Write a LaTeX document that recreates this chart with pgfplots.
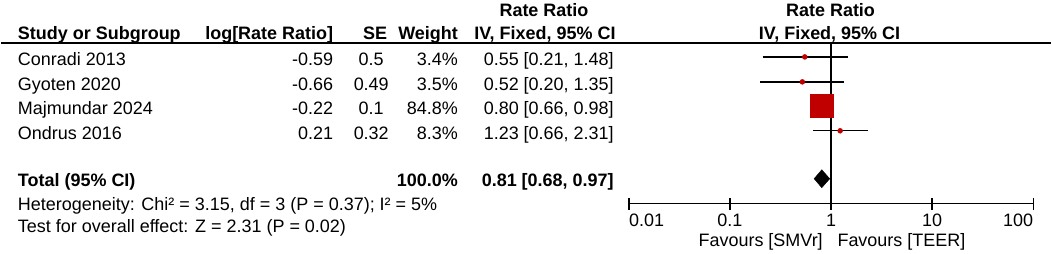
\documentclass[border=0pt]{standalone}
\usepackage{pgfplots}
\pgfplotsset{compat=1.18}
\usepackage{fontspec}
\setmainfont{Liberation Sans}
\definecolor{rmred}{RGB}{192,0,0}
\begin{document}
\begin{tikzpicture}[x=1pt,y=1pt]
\path (0,0) rectangle (1052,254);
% header line
\draw[line width=1.6pt] (0,254-43) -- (1052,254-43);
\begin{scope}[y=-1pt,yshift=254pt]
\tikzset{t/.style={inner sep=0pt,anchor=base,font=\fontsize{18}{20}\selectfont},
  b/.style={inner sep=0pt,anchor=base,font=\fontsize{18}{20}\selectfont\bfseries}}
% headers
\node[b,anchor=base west] at (17,39.5) {Study or Subgroup};
\node[b,anchor=base east] at (333,39.5) {log[Rate Ratio]};
\node[b,anchor=base east] at (387,39.5) {SE};
\node[b,anchor=base east] at (458,39.5) {Weight};
\node[b] at (544,16.5) {Rate Ratio};
\node[b] at (545,39.5) {IV, Fixed, 95\% CI};
\node[b] at (831,16.5) {Rate Ratio};
\node[b] at (830,39.5) {IV, Fixed, 95\% CI};
% rows
\foreach \y/\n/\l/\s/\w/\c in {66/Conradi 2013/-0.59/0.5/3.4/0.55 [0.21{,} 1.48],
  90.5/Gyoten 2020/-0.66/0.49/3.5/0.52 [0.20{,} 1.35],
  115/Majmundar 2024/-0.22/0.1/84.8/0.80 [0.66{,} 0.98],
  139.5/Ondrus 2016/0.21/0.32/8.3/1.23 [0.66{,} 2.31]}{
  \node[t,anchor=base west] at (17,\y) {\n};
  \node[t,anchor=base east] at (333,\y) {\l};
  \node[t] at (371,\y) {\s};
  \node[t,anchor=base east] at (458,\y) {\w\%};
  \node[t,anchor=base east] at (614,\y) {\c};
}
\node[b,anchor=base west] at (17,187) {Total (95\% CI)};
\node[b,anchor=base east] at (458,187) {100.0\%};
\node[b,anchor=base east] at (614,187) {0.81 [0.68, 0.97]};
\node[t,anchor=base west] at (17,210.5) {Heterogeneity: Chi² = 3.15, df = 3 (P = 0.37); I² = 5\%};
\node[t,anchor=base west] at (17,233) {Test for overall effect: Z = 2.31 (P = 0.02)};
\node[t] at (761,246.5) {Favours [SMVr]};
\node[t] at (902,246.5) {Favours [TEER]};
\end{scope}
\begin{axis}[
  at={(629pt,50pt)}, anchor=south west,
  scale only axis, width=405pt, height=161pt,
  xmode=log, xmin=0.01, xmax=100,
  ymin=-204, ymax=-43,
  axis x line*=bottom, axis y line=none,
  x axis line style={line width=1.4pt},
  xtick={0.01,0.1,1,10,100}, xticklabels={},
  xminorticks=false,
  tick align=center, major tick length=12pt,
  every tick/.style={black,line width=1.4pt},
  clip=false,
]
\addplot[black,line width=1.3pt] coordinates {(1,-43) (1,-204)};
% CIs
\addplot[black,line width=1.3pt] coordinates {(0.21,-57) (1.48,-57)};
\addplot[black,line width=1.3pt] coordinates {(0.20,-82) (1.35,-82)};
\addplot[black,line width=1.3pt] coordinates {(0.66,-106) (0.98,-106)};
\addplot[black,line width=1.3pt] coordinates {(0.66,-131) (2.31,-131)};
% markers
\addplot[only marks,mark=*,mark size=2.5pt,color=rmred] coordinates {(0.55,-57) (0.52,-82) (1.23,-131)};
\addplot[only marks,mark=square*,mark size=11.5pt,color=rmred] coordinates {(0.80,-106)};
% diamond
\addplot[fill=black,draw=black] coordinates {(0.68,-179) (0.81,-170) (0.97,-179) (0.81,-188)} -- cycle;
% tick labels
\node[anchor=base west,inner sep=0pt,font=\fontsize{18}{20}\selectfont] at (axis cs:0.01,-226.5) {0.01};
\node[anchor=base,inner sep=0pt,font=\fontsize{18}{20}\selectfont] at (axis cs:0.1,-226.5) {0.1};
\node[anchor=base,inner sep=0pt,font=\fontsize{18}{20}\selectfont] at (axis cs:1,-226.5) {1};
\node[anchor=base,inner sep=0pt,font=\fontsize{18}{20}\selectfont] at (axis cs:10,-226.5) {10};
\node[anchor=base east,inner sep=0pt,font=\fontsize{18}{20}\selectfont] at (axis cs:100,-226.5) {100};
\end{axis}
\end{tikzpicture}
\end{document}
